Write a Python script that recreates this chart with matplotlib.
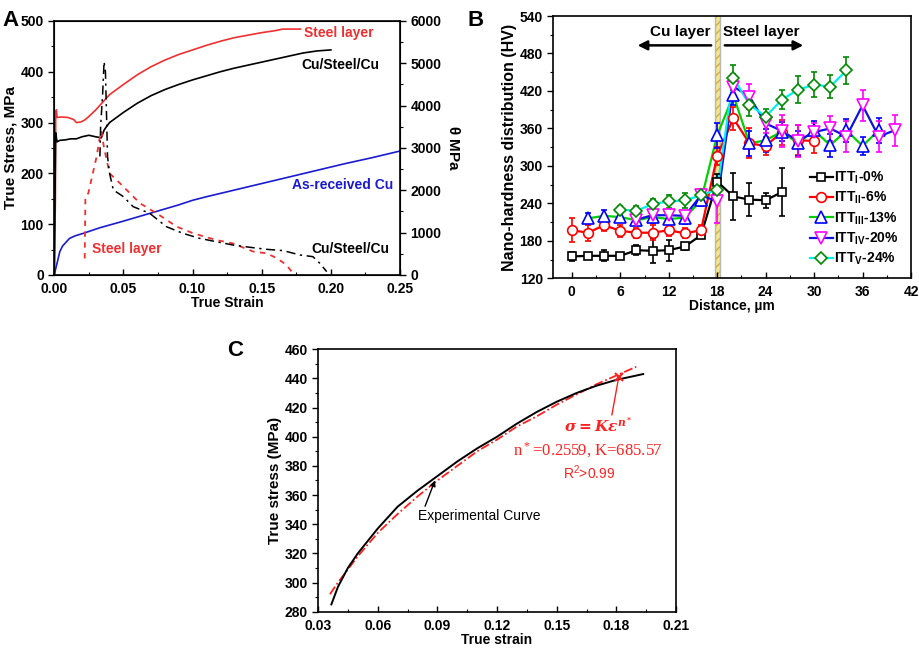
import matplotlib
matplotlib.use("Agg")
import matplotlib.pyplot as plt
from matplotlib.lines import Line2D
from matplotlib.ticker import MultipleLocator

plt.rcParams['font.family'] = ['Liberation Sans', 'DejaVu Sans']
plt.rcParams['font.weight'] = 'bold'
plt.rcParams['axes.labelweight'] = 'bold'
plt.rcParams['mathtext.default'] = 'regular'

# ---------------- Panel A data ----------------
steel_strain = [0, 0.0008, 0.001, 0.0015, 0.002, 0.005, 0.010, 0.014, 0.016, 0.019, 0.022, 0.025,
                0.030, 0.035, 0.040, 0.050, 0.060, 0.070, 0.080, 0.090, 0.100, 0.110, 0.120,
                0.130, 0.140, 0.150, 0.160, 0.165, 0.178]
steel_stress = [0, 150, 310, 325, 310, 311, 310, 306, 300, 301, 305, 312,
                325, 340, 355, 375, 394, 410, 423, 434, 443, 452, 460,
                467, 472, 477, 481, 484, 484]

csc_strain = [0, 0.0005, 0.001, 0.002, 0.004, 0.008, 0.012, 0.016, 0.020, 0.025, 0.030, 0.034,
              0.036, 0.038, 0.040, 0.045, 0.050, 0.060, 0.070, 0.080, 0.090, 0.100, 0.110,
              0.120, 0.130, 0.140, 0.150, 0.160, 0.170, 0.180, 0.190, 0.200]
csc_stress = [0, 150, 280, 262, 265, 266, 268, 268, 272, 275, 272, 270,
              285, 293, 300, 310, 320, 338, 353, 365, 375, 384, 392,
              400, 407, 413, 419, 425, 431, 437, 441, 443]

cu_strain = [0, 0.001, 0.002, 0.004, 0.006, 0.008, 0.011, 0.015, 0.021, 0.033, 0.050, 0.070,
             0.090, 0.100, 0.110, 0.130, 0.150, 0.170, 0.190, 0.210, 0.230, 0.250]
cu_stress = [0, 12, 23, 46, 57, 63, 72, 77, 82, 93, 106, 122,
             138, 147, 154, 167, 180, 193, 206, 219, 231, 244]

steel_theta_strain = [0.022, 0.0225, 0.0246, 0.0306, 0.0326, 0.034, 0.036, 0.040, 0.0475, 0.062,
                      0.074, 0.0885, 0.1005, 0.117, 0.129, 0.144, 0.1536, 0.161, 0.168, 0.1716, 0.173]
steel_theta = [390, 1850, 1930, 2795, 3190, 3400, 3000, 2400, 2165, 1693,
               1457, 1142, 984, 827, 748, 551, 512, 394, 236, 79, 0]

csc_theta_strain = [0.033, 0.0335, 0.035, 0.036, 0.037, 0.038, 0.0385, 0.040, 0.0427, 0.050,
                    0.057, 0.069, 0.081, 0.093, 0.105, 0.117, 0.129, 0.1415, 0.1536, 0.1656,
                    0.1777, 0.187, 0.192, 0.197]
csc_theta = [2800, 3500, 4300, 5040, 4800, 3500, 2800, 2400, 2008, 1850,
             1614, 1457, 1142, 984, 866, 787, 709, 654, 606, 575,
             472, 433, 276, 79]

# ---------------- Panel B data ----------------
b_labels = ['ITT$_{I}$-0%', 'ITT$_{II}$-6%', 'ITT$_{III}$-13%', 'ITT$_{IV}$-20%', 'ITT$_{V}$-24%']
x_I = [0, 2, 4, 6, 8, 10, 12, 14, 16, 18, 20, 22, 24, 26]
y_I = [155, 156, 156, 156, 165, 164, 165, 171, 189, 275, 251, 246, 245, 258]
e_I = [7, 5, 9, 5, 8, 20, 17, 5, 5, 12, 38, 26, 12, 38]

x_II = [0, 2, 4, 6, 8, 10, 12, 14, 16, 18, 20, 22, 24, 26, 28, 30]
y_II = [197, 193, 205, 196, 193, 193, 197, 192, 197, 316, 376, 336, 332, 354, 341, 340]
e_II = [19, 13, 10, 10, 8, 12, 10, 8, 8, 15, 18, 24, 15, 20, 24, 20]

x_III = [2, 4, 6, 8, 10, 12, 14, 16, 18, 20, 22, 24, 26, 28, 30, 32, 34, 36, 38]
y_III = [216, 220, 218, 213, 218, 215, 217, 245, 349, 413, 336, 341, 355, 336, 357, 333, 357, 332, 357]
e_III = [8, 10, 8, 8, 10, 8, 10, 10, 20, 15, 20, 18, 15, 20, 15, 18, 18, 15, 20]

x_IV = [8, 10, 12, 14, 16, 18, 20, 22, 24, 26, 28, 30, 32, 34, 36, 38, 40]
y_IV = [214, 221, 221, 220, 253, 243, 427, 411, 368, 356, 340, 354, 360, 347, 397, 347, 357]
e_IV = [8, 8, 8, 8, 10, 35, 20, 20, 15, 25, 25, 15, 20, 25, 25, 25, 25]

x_V = [6, 8, 10, 12, 14, 16, 18, 20, 22, 24, 26, 28, 30, 32, 34]
y_V = [230, 228, 239, 243, 245, 253, 262, 441, 398, 379, 406, 422, 430, 427, 453]
e_V = [5, 8, 8, 10, 12, 8, 10, 20, 18, 12, 15, 22, 20, 18, 22]

# ---------------- Panel C data ----------------
exp_strain = [0.0367, 0.040, 0.045, 0.050, 0.060, 0.070, 0.080, 0.090, 0.100, 0.110, 0.120,
              0.130, 0.140, 0.150, 0.160, 0.170, 0.180, 0.1935]
exp_stress = [285, 297, 310, 320, 337, 352, 363, 373, 383, 392, 400,
              409, 417, 424, 430, 435, 439, 443]
fit_strain = [0.036, 0.040, 0.050, 0.060, 0.070, 0.080, 0.090, 0.100, 0.110, 0.120,
              0.130, 0.140, 0.150, 0.160, 0.170, 0.180, 0.190]
fit_stress = [292, 300, 318, 334, 347, 359, 370, 380, 390, 398,
              407, 414, 422, 429, 436, 442, 448]

FS = 10
fig = plt.figure(figsize=(9.2, 6.51), dpi=100)

def style_ticks(ax):
    ax.tick_params(axis='y', which='both', direction='out', labelsize=FS)
    ax.tick_params(axis='x', which='both', direction='in', labelsize=FS, pad=5)
    ax.tick_params(which='major', length=4, width=1)
    ax.tick_params(which='minor', length=2.5, width=0.8)
    for lab in ax.get_xticklabels() + ax.get_yticklabels():
        lab.set_fontweight('bold')
    for s in ax.spines.values():
        s.set_linewidth(1.2)

# ======== Panel A ========
axA = fig.add_axes([0.059, 0.5776, 0.3758, 0.3902])
RED = '#f03030'
axA.plot(steel_strain, steel_stress, color=RED, lw=1.2)
axA.plot(csc_strain, csc_stress, color='black', lw=1.2)
axA.plot(cu_strain, cu_stress, color='#1a1ad0', lw=1.2)
axA.set_xlim(0, 0.25)
axA.set_ylim(0, 500)
axA.xaxis.set_major_locator(MultipleLocator(0.05))
axA.xaxis.set_minor_locator(MultipleLocator(0.025))
axA.yaxis.set_major_locator(MultipleLocator(100))
axA.yaxis.set_minor_locator(MultipleLocator(50))
axA.xaxis.set_major_formatter(plt.FormatStrFormatter('%.2f'))
axA.set_xlabel('True Strain', fontsize=FS, fontweight='bold', labelpad=0)
axA.set_ylabel('True Stress, MPa', fontsize=FS + 1, fontweight='bold', labelpad=2)
style_ticks(axA)

axA2 = axA.twinx()
axA2.plot(steel_theta_strain, steel_theta, color=RED, lw=1.3, ls=(0, (3, 3)))
axA2.plot(csc_theta_strain, csc_theta, color='black', lw=1.1, ls=(0, (6, 3, 1.5, 3)))
axA2.set_ylim(0, 6000)
axA2.yaxis.set_major_locator(MultipleLocator(1000))
axA2.yaxis.set_minor_locator(MultipleLocator(500))
axA2.tick_params(axis='y', which='both', direction='out', labelsize=FS)
axA2.tick_params(which='major', length=4, width=1)
axA2.tick_params(which='minor', length=2.5, width=0.8)
for lab in axA2.get_yticklabels():
    lab.set_fontweight('bold')
axA2.set_ylabel(r'$\theta$ MPa', fontsize=FS + 1, fontweight='bold', rotation=270, labelpad=14)

axA.text(0.2054, 476, 'Steel layer', color=RED, fontsize=FS, fontweight='bold', ha='center', va='center')
axA.text(0.207, 413, 'Cu/Steel/Cu', color='black', fontsize=FS, fontweight='bold', ha='center', va='center')
axA.text(0.2083, 177, 'As-received Cu', color='#1a1ad0', fontsize=FS, fontweight='bold', ha='center', va='center')
axA.text(0.0523, 52, 'Steel layer', color=RED, fontsize=FS, fontweight='bold', ha='center', va='center')
axA.text(0.2138, 52, 'Cu/Steel/Cu', color='black', fontsize=FS, fontweight='bold', ha='center', va='center')
fig.text(0.003, 0.985, 'A', fontsize=16, fontweight='bold', va='top', ha='left')

# ======== Panel B ========
axB = fig.add_axes([0.6014, 0.5725, 0.3888, 0.4029])
series = [
    (x_I, y_I, e_I, 'black', 's', 'black', 6),
    (x_II, y_II, e_II, '#ff0000', 'o', '#ff0000', 7),
    (x_III, y_III, e_III, '#00d000', '^', '#0000ff', 8),
    (x_IV, y_IV, e_IV, '#1010e0', 'v', '#ff00ff', 8),
    (x_V, y_V, e_V, '#00f0f0', 'D', '#008a00', 6.5),
]
handles = []
for (xs, ys, es, lc, mk, mc, ms), lab in zip(series, b_labels):
    axB.plot(xs, ys, color=lc, lw=1.6, zorder=2)
    axB.errorbar(xs, ys, yerr=es, fmt=mk, color=mc, mec=mc, mfc='white', ms=ms, mew=1.2,
                 ecolor=mc, elinewidth=1.2, capsize=2.5, capthick=1.2, zorder=3)
    handles.append(Line2D([], [], color=lc, lw=1.6, marker=mk, mec=mc, mfc='white', ms=ms, mew=1.2))
axB.axvspan(17.75, 18.4, facecolor='#f3e58a', edgecolor='#d0b040', hatch='////', lw=0, zorder=1)
axB.axvline(17.75, color='#b8b8b8', lw=1, zorder=1)
axB.axvline(18.4, color='#b8b8b8', lw=1, zorder=1)
axB.set_xlim(-2.3, 42)
axB.set_ylim(120, 540)
axB.xaxis.set_major_locator(MultipleLocator(6))
axB.xaxis.set_minor_locator(MultipleLocator(3))
axB.yaxis.set_major_locator(MultipleLocator(60))
axB.yaxis.set_minor_locator(MultipleLocator(30))
axB.set_xlabel('Distance, µm', fontsize=FS, fontweight='bold', labelpad=0)
axB.set_ylabel('Nano-hardness distribution (HV)', fontsize=FS + 1.5, fontweight='bold', labelpad=2)
style_ticks(axB)
axB.annotate('', xy=(7.8, 493), xytext=(17.6, 493),
             arrowprops=dict(arrowstyle='-|>', lw=1.8, color='black', mutation_scale=14))
axB.annotate('', xy=(29.0, 493), xytext=(18.6, 493),
             arrowprops=dict(arrowstyle='-|>', lw=1.8, color='black', mutation_scale=14))
axB.text(13.4, 514, 'Cu layer', fontsize=FS + 1, fontweight='bold', ha='center', va='center')
axB.text(23.4, 514, 'Steel layer', fontsize=FS + 1, fontweight='bold', ha='center', va='center')
leg = axB.legend(handles, b_labels, loc='lower right', bbox_to_anchor=(1.0, -0.005), frameon=False,
                 fontsize=FS, handlelength=1.6, handletextpad=0.1, labelspacing=0.28)
for t in leg.get_texts():
    t.set_fontweight('bold')
fig.text(0.508, 0.985, 'B', fontsize=16, fontweight='bold', va='top', ha='left')

# ======== Panel C ========
axC = fig.add_axes([0.3457, 0.0604, 0.3891, 0.4031])
axC.plot(fit_strain, fit_stress, color='#ff2020', lw=1.3, ls=(0, (5, 1.5, 1, 1.5)), zorder=2)
axC.plot(exp_strain, exp_stress, color='black', lw=1.4, zorder=3)
axC.set_xlim(0.03, 0.21)
axC.set_ylim(280, 460)
axC.xaxis.set_major_locator(MultipleLocator(0.03))
axC.xaxis.set_minor_locator(MultipleLocator(0.015))
axC.yaxis.set_major_locator(MultipleLocator(20))
axC.yaxis.set_minor_locator(MultipleLocator(10))
axC.xaxis.set_major_formatter(plt.FormatStrFormatter('%.2f'))
axC.set_xlabel('True strain', fontsize=FS, fontweight='bold', labelpad=0)
axC.set_ylabel('True stress (MPa)', fontsize=FS + 1, fontweight='bold', labelpad=2)
style_ticks(axC)
axC.annotate('Experimental Curve', xy=(0.0888, 370), xytext=(0.111, 345.6),
             fontsize=FS, fontweight='normal', ha='center', va='center',
             arrowprops=dict(arrowstyle='-|>', lw=1, color='black', mutation_scale=8,
                             shrinkA=0, shrinkB=0, relpos=(0.05, 1.0)))
axC.plot([0.1812], [441], marker='x', color='#ff2020', ms=6, mew=1.5, zorder=4)
axC.annotate('', xy=(0.1812, 441), xytext=(0.1775, 413),
             arrowprops=dict(arrowstyle='-', lw=1, color='#ff2020'))
axC.text(0.1707, 408, r'$\sigma=K\varepsilon^{n^*}$', color='#ff2020', fontsize=11,
         ha='center', va='center', family='DejaVu Serif', style='italic', fontweight='bold')
axC.text(0.1657, 391, r'$n^*$=0.2559, $K$=685.57', color='#ff2020', fontsize=12,
         ha='center', va='center', fontweight='normal', family='Liberation Serif')
axC.text(0.1665, 375, r'$R^2$>0.99', color='#ff2020', fontsize=FS,
         ha='center', va='center', fontweight='normal')
fig.text(0.247, 0.478, 'C', fontsize=16, fontweight='bold', va='top', ha='left')

fig.savefig('out.png', dpi=100)
